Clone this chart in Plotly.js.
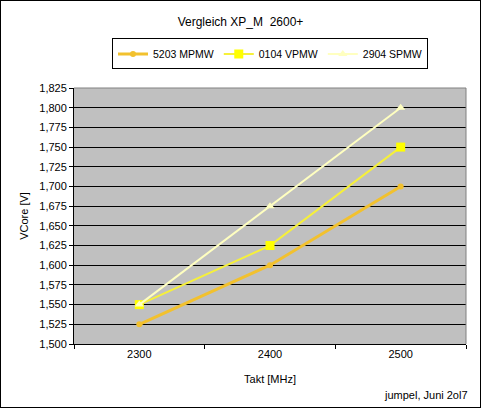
<!DOCTYPE html>
<html><head><meta charset="utf-8">
<script src="https://cdn.plot.ly/plotly-3.0.1.min.js"></script>
<style>
html,body{margin:0;padding:0;background:#fff;}
#c{width:479px;height:406px;border:1px solid #000;}
</style></head>
<body><div id="c"></div>
<script>
const categories = [2300, 2400, 2500];
const mpmw5203 = [1.525, 1.600, 1.700];
const vpmw0104 = [1.550, 1.625, 1.750];
const spmw2904 = [1.550, 1.675, 1.800];
const seriesNames = ['5203 MPMW', '0104 VPMW', '2904 SPMW'];
const yTicks = [1.500,1.525,1.550,1.575,1.600,1.625,1.650,1.675,1.700,1.725,1.750,1.775,1.800,1.825];

const traces = [
  {x: categories, y: mpmw5203, name: seriesNames[0], mode: 'lines+markers',
   line: {color: '#F2C12E', width: 3}, marker: {symbol: 'circle', size: 6, color: '#F2C12E'}},
  {x: categories, y: vpmw0104, name: seriesNames[1], mode: 'lines+markers',
   line: {color: '#F6F03A', width: 2}, marker: {symbol: 'square', size: 9, color: '#FFFF00'}},
  {x: categories, y: spmw2904, name: seriesNames[2], mode: 'lines+markers',
   line: {color: '#FFFFC0', width: 2}, marker: {symbol: 'triangle-up', size: 8, color: '#FFFFC0'}}
];

const layout = {
  width: 479, height: 406,
  margin: {l: 73, r: 14, t: 87, b: 63},
  paper_bgcolor: '#fff', plot_bgcolor: '#C0C0C0',
  separators: ',.',
  font: {family: 'Liberation Sans, Arial, sans-serif', size: 11, color: '#000'},
  title: {text: 'Vergleich XP_M  2600+', x: 0.5, xanchor: 'center', y: 0.948, yanchor: 'middle',
          font: {size: 12, color: '#000'}},
  showlegend: true,
  legend: {orientation: 'h', x: 0.5, xanchor: 'center', y: 1.133, yanchor: 'middle',
           bordercolor: '#000', borderwidth: 1, bgcolor: '#fff', font: {size: 10.5},
           itemwidth: 30, traceorder: 'normal'},
  xaxis: {range: [2250, 2550], tickvals: categories, ticktext: categories.map(String),
          ticks: '', showgrid: false, zeroline: false, showline: true, linecolor: '#000', linewidth: 1,
          minor: {tickvals: [2250, 2350, 2450, 2550], ticks: 'outside', ticklen: 4, tickcolor: '#000', showgrid: false},
          title: {text: 'Takt [MHz]', standoff: 16, font: {size: 11}}},
  yaxis: {range: [1.5, 1.825], tickvals: yTicks, tickformat: '.3f', ticks: 'outside', ticklen: 4,
          tickcolor: '#000', showgrid: true, gridcolor: '#000', gridwidth: 1, zeroline: false,
          showline: true, linecolor: '#000', linewidth: 1,
          title: {text: 'VCore [V]', standoff: 8, font: {size: 11}}},
  shapes: [
    {type: 'line', xref: 'paper', yref: 'paper', x0: 0, x1: 1, y0: 1, y1: 1, line: {color: '#808080', width: 1}},
    {type: 'line', xref: 'paper', yref: 'paper', x0: 1, x1: 1, y0: 0, y1: 1, line: {color: '#808080', width: 1}}
  ],
  annotations: [
    {text: 'jumpel, Juni 2ol7', xref: 'paper', yref: 'paper', x: 1.01, y: -0.2, xanchor: 'right', yanchor: 'middle',
     showarrow: false, font: {size: 11}}
  ]
};
Plotly.newPlot('c', traces, layout, {displayModeBar: false, staticPlot: true});
</script></body></html>
